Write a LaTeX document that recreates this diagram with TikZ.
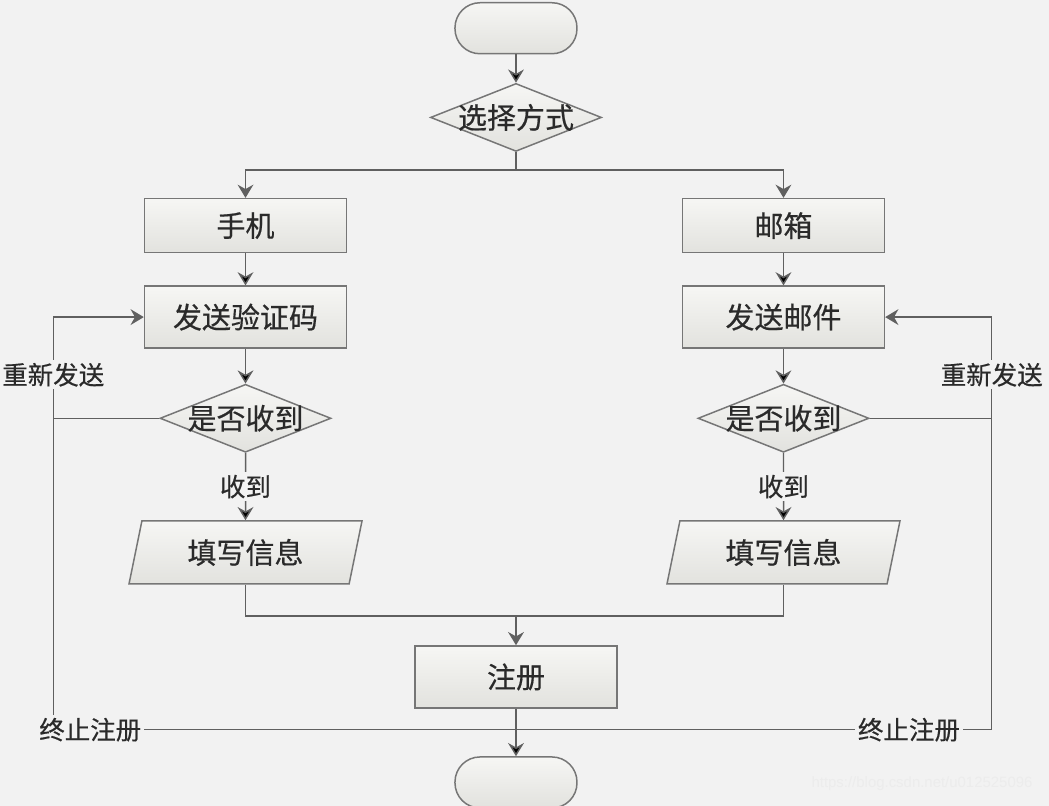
\documentclass[tikz,border=0pt]{standalone}
\usepackage{fontspec}
\newfontfamily\cjk[FakeBold=0.5]{Noto Sans CJK SC}
\usetikzlibrary{matrix,arrows.meta,positioning,calc,shapes.geometric,backgrounds}
\definecolor{bgcol}{HTML}{F2F2F2}
\definecolor{edgecol}{HTML}{767676}
\definecolor{linecol}{HTML}{606060}
\definecolor{txtcol}{HTML}{2A2A2A}
\definecolor{filltop}{HTML}{F6F6F4}
\definecolor{fillbot}{HTML}{E2E2DE}

\begin{document}
\begin{tikzpicture}[
  every node/.style={font=\cjk\fontsize{16.5}{20}\selectfont, text=txtcol},
  shape base/.style={draw=edgecol, line width=0.85pt, top color=filltop, bottom color=fillbot, inner sep=0pt},
  term/.style={shape base, rounded corners=0.5cm, minimum width=2.44cm, minimum height=1.02cm},
  box/.style={shape base, minimum width=4.04cm, minimum height=1.24cm},
  choice/.style={shape base, diamond, aspect=2.5, minimum width=3.42cm, minimum height=1.36cm},
  io/.style={shape base, trapezium, trapezium left angle=64.5, trapezium right angle=115.5, trapezium stretches body, minimum width=4.66cm, minimum height=1.26cm},
  line/.style={draw=linecol, line width=0.85pt},
  lbl/.style={fill=bgcol, inner sep=1.5pt, font=\cjk\fontsize{14.5}{17}\selectfont},
  >={Stealth[length=7.5pt,width=9pt,inset=2.5pt]}
]
\matrix (m) [matrix of nodes, row sep=0pt, column sep=0.97cm, nodes={anchor=center}]
{
  &[0.06cm] |[term]| \null & \\[0.57cm]
  & |[choice]| \makebox[0pt]{选择方式} & \\[0.92cm]
  |[box, minimum height=1.08cm]| 手机 & & |[box, minimum height=1.08cm]| 邮箱 \\[0.64cm]
  |[box]| 发送验证码 & & |[box]| 发送邮件 \\[0.70cm]
  |[choice]| \makebox[0pt]{是否收到} & & |[choice]| \makebox[0pt]{是否收到} \\[1.35cm]
  |[io]| 填写信息 & & |[io]| 填写信息 \\[1.21cm]
  & |[box]| 注册 & \\[0.95cm]
  & |[term]| \null & \\
};

% background
\coordinate (tl) at ($(m-1-2.north)+(-10.32cm,0.04cm)$);
\coordinate (br) at ($(m-1-2.north)+(10.66cm,-16.08cm)$);
\begin{scope}[on background layer]
\fill[bgcol] (tl) rectangle (br);
\end{scope}

\path[line,->]
(m-1-2) edge (m-2-2)
(m-3-1) edge (m-4-1) (m-3-3) edge (m-4-3)
(m-4-1) edge (m-5-1) (m-4-3) edge (m-5-3)
(m-5-1) edge node[lbl] {收到} (m-6-1)
(m-5-3) edge node[lbl] {收到} (m-6-3)
(m-7-2) edge (m-8-2)
;

% split and join
\coordinate (split) at ($(m-2-2.south)+(0,-0.36cm)$);
\coordinate (join) at ($(m-7-2.north)+(0,0.58cm)$);
\coordinate (stop) at ($(m-7-2.south)+(0,-0.42cm)$);
\draw[line] (m-2-2.south) -- (split);
\draw[line,->] (split) -| (m-3-1);
\draw[line,->] (split) -| (m-3-3);
\draw[line] (m-6-1.south) |- (join);
\draw[line] (m-6-3.south) |- (join);
\draw[line,->] (join) -- (m-7-2);

% resend loops
\coordinate (lback) at ($(m-5-1.west)+(-2.12cm,0)$);
\coordinate (rback) at ($(m-5-3.east)+(2.44cm,0)$);
\draw[line] (m-5-1.west) -- (lback);
\draw[line] (m-5-3.east) -- (rback);
\draw[line] (lback) |- node[lbl,pos=0.54] {终止注册} (stop);
\draw[line] (rback) |- node[lbl,pos=0.587] {终止注册} (stop);
\draw[line,->] (lback) |- node[lbl,pos=0.215] {重新发送} (m-4-1.west);
\draw[line,->] (rback) |- node[lbl,pos=0.215] {重新发送} (m-4-3.east);

\node[font=\fontspec{Liberation Sans}\fontsize{8.5}{10}\selectfont, text=white!85!gray] (wm) at ($(m-1-2.north)+(8.12cm,-15.64cm)$) {https://blog.csdn.net/u012525096};

\pgfresetboundingbox
\path[use as bounding box] (tl) rectangle (br);
\end{tikzpicture}
\end{document}
